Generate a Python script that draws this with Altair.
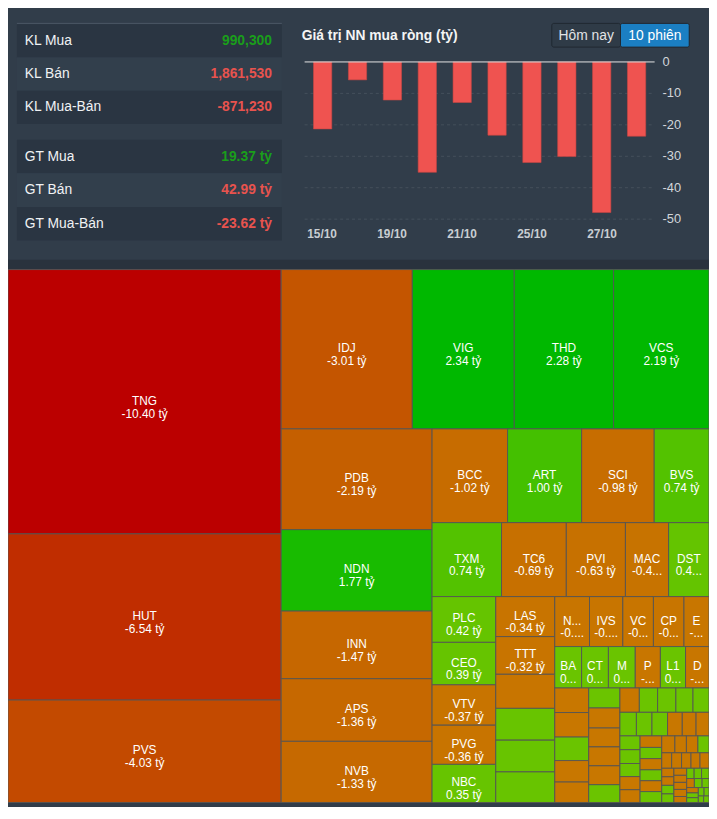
import altair as alt
import pandas as pd

# ---------------- data ----------------
tbl_labels = ["KL Mua", "KL Bán", "KL Mua-Bán", "GT Mua", "GT Bán", "GT Mua-Bán"]
tbl_values = [990300, 1861530, -871230, 19.37, 42.99, -23.62]
tbl_group = ["KL", "KL", "KL", "GT", "GT", "GT"]
tbl_side = ["buy", "sell", "net", "buy", "sell", "net"]

sessions = ["15/10", "18/10", "19/10", "20/10", "21/10", "22/10", "25/10", "26/10", "27/10", "28/10"]
net_buy = [-21.3, -5.7, -12.1, -35.1, -12.9, -23.3, -32.0, -30.1, -47.9, -23.62]
y_ticks = [0, -10, -20, -30, -40, -50]
x_tick_labels = ["15/10", "19/10", "21/10", "25/10", "27/10"]

title_text = "Giá trị NN mua ròng (tỷ)"
buttons = ["Hôm nay", "10 phiên"]
button_active = [False, True]

tm_symbols = ["TNG", "HUT", "PVS", "IDJ", "VIG", "THD", "VCS", "PDB", "NDN", "INN",
              "APS", "NVB", "BCC", "ART", "SCI", "BVS", "TXM", "TC6", "PVI", "MAC",
              "DST", "PLC", "CEO", "VTV", "PVG", "NBC", "LAS", "TTT",
              "", "", "", "",
              "N...", "IVS", "VC", "CP", "E", "BA", "CT", "M", "P", "L1", "D"]
tm_values = [-10.40, -6.54, -4.03, -3.01, 2.34, 2.28, 2.19, -2.19, 1.77, -1.47,
             -1.36, -1.33, -1.02, 1.00, -0.98, 0.74, 0.74, -0.69, -0.63, -0.46,
             0.43, 0.42, 0.39, -0.37, -0.36, 0.35, -0.34, -0.32,
             -0.29, 0.27, 0.27, 0.26,
             -0.25, -0.24, -0.22, -0.22, -0.18, 0.16, 0.16, 0.16, -0.15, 0.15, -0.14]
tm_tail = [-0.12, -0.12, 0.115, -0.105, -0.10,
           0.09, -0.09, -0.085, -0.085, -0.085, 0.08,
           -0.068, 0.064, 0.064, 0.06, 0.056, 0.056,
           0.053, 0.053, -0.05, -0.047, -0.044, 0.04,
           0.04, 0.038, -0.038, -0.037, -0.036,
           0.035, -0.035, 0.034, -0.034, 0.034,
           -0.032, -0.028, -0.028, 0.027,
           -0.022, -0.022, -0.021, -0.02, -0.02,
           -0.015, -0.015, 0.015, 0.015,
           -0.013, -0.013, -0.013, -0.013,
           -0.011, 0.011, 0.011, 0.011, -0.01, 0.01,
           0.009, -0.009, 0.008, 0.008, 0.007, 0.006, 0.005, 0.005]

# ---------------- layout constants (pixels) ----------------
FONT = "Liberation Sans, Arial, sans-serif"
W, H = 709, 799
TM_TOP = 260
VW, VH = 717.0, 551.0          # treemap layout box (aspect of the original)


# ---------------- treemap layout (d3 squarify) ----------------
def squarify(values, x0, y0, x1, y1, ratio=(1 + 5 ** 0.5) / 2):
    n = len(values)
    out = [None] * n
    value = float(sum(values))
    i0 = i1 = 0
    while i0 < n:
        dx, dy = x1 - x0, y1 - y0
        sumv = values[i1]
        i1 += 1
        minv = maxv = sumv
        alpha = max(dy / dx, dx / dy) / (value * ratio)
        beta = sumv * sumv * alpha
        minratio = max(maxv / beta, beta / minv)
        while i1 < n:
            nv = values[i1]
            sumv += nv
            minv = min(minv, nv)
            maxv = max(maxv, nv)
            beta = sumv * sumv * alpha
            nr = max(maxv / beta, beta / minv)
            if nr > minratio:
                sumv -= nv
                break
            minratio = nr
            i1 += 1
        if dx < dy:
            yy = y0 + dy * sumv / value
            cx = x0
            for i in range(i0, i1):
                w = (x1 - x0) * values[i] / sumv
                out[i] = (cx, y0, cx + w, yy)
                cx += w
            y0 = yy
        else:
            xx = x0 + dx * sumv / value
            cy = y0
            for i in range(i0, i1):
                h = (y1 - y0) * values[i] / sumv
                out[i] = (x0, cy, xx, cy + h)
                cy += h
            x0 = xx
        value -= sumv
        i0 = i1
    return out


syms = tm_symbols + ["" for _ in tm_tail]
vals = tm_values + tm_tail
order = sorted(range(len(vals)), key=lambda k: -abs(vals[k]))
syms = [syms[k] for k in order]
vals = [vals[k] for k in order]
rects = squarify([abs(v) for v in vals], 0, 0, VW, VH)
tm = pd.DataFrame({
    "sym": syms, "v": vals,
    "x0": [r[0] for r in rects], "y0": [r[1] for r in rects],
    "x1": [r[2] for r in rects], "y1": [r[3] for r in rects],
})
tm["cx"] = (tm.x0 + tm.x1) / 2
tm["cy"] = (tm.y0 + tm.y1) / 2
tm["w"] = tm.x1 - tm.x0
tm["h"] = tm.y1 - tm.y0
tm["wpx"] = tm.w * W / VW
tm["lab"] = [f"{s}\n{v:.2f} tỷ" for s, v in zip(tm.sym, tm.v)]

# ---------------- table ----------------
tdf = pd.DataFrame({"label": tbl_labels, "val": tbl_values, "grp": tbl_group, "side": tbl_side})
tdf["txt"] = [f"{int(v):,}" if g == "KL" else f"{v:.2f} tỷ" for v, g in zip(tdf.val, tdf.grp)]
tdf["i"] = tdf.groupby("grp").cumcount()
tdf["pos"] = [(s == "buy") or (s == "net" and v > 0) for s, v in zip(tdf.side, tdf.val)]

GREEN = "#1a9e1a"
RED = "#e8534e"

layers = []


def table_layers(g, rng):
    d = tdf[tdf.grp == g]
    yenc = alt.Y("label:N", sort=None, axis=None,
                 scale=alt.Scale(domain=list(d.label), range=rng, paddingInner=0, paddingOuter=0))
    base = alt.Chart(d)
    rect = base.mark_rect().encode(
        x=alt.value(9), x2=alt.value(277), y=yenc,
        fill=alt.condition("datum.i % 2 == 0", alt.value("#2a3542"), alt.value("#323f4c")))
    lab = base.mark_text(align="left", baseline="middle", font=FONT, fontSize=14, color="#f0f2f4").encode(
        x=alt.value(17), y=yenc, text="label:N")
    val = base.mark_text(align="right", baseline="middle", font=FONT, fontSize=14, fontWeight="bold").encode(
        x=alt.value(267), y=yenc, text="txt:N",
        color=alt.condition("datum.pos", alt.value(GREEN), alt.value(RED)))
    return [rect, lab, val]


layers += table_layers("KL", [12, 112.7])
layers += table_layers("GT", [128.7, 230.7])
layers.append(alt.Chart(pd.DataFrame({"k": [0]})).mark_rule(color="#4b5764", strokeWidth=1).encode(
    x=alt.value(9), x2=alt.value(277), y=alt.value(11)))

# ---------------- bar chart ----------------
bar_df = pd.DataFrame({"date": sessions, "net": net_buy})
xs = alt.Scale(domain=sessions, range=[300, 654], paddingInner=0.476, paddingOuter=0.255)
ys = alt.Scale(domain=[-50, 0], range=[209, 50], nice=False)
tick_df = pd.DataFrame({"t": y_ticks, "lab": [str(t) for t in y_ticks]})

layers.append(alt.Chart(tick_df[tick_df.t != 0]).mark_rule(color="#45505b", strokeDash=[3, 3], strokeWidth=1).encode(
    y=alt.Y("t:Q", scale=ys, axis=None), x=alt.value(300), x2=alt.value(654)))
layers.append(alt.Chart(bar_df).mark_bar(color="#ef5350", stroke="#c94542", strokeWidth=0.6).encode(
    x=alt.X("date:N", sort=None, scale=xs, axis=None),
    y=alt.Y("net:Q", scale=ys, axis=None)))
layers.append(alt.Chart(tick_df[tick_df.t == 0]).mark_rule(color="#e6e6e6", strokeWidth=1).encode(
    y=alt.Y("t:Q", scale=ys, axis=None), x=alt.value(300), x2=alt.value(654)))
layers.append(alt.Chart(tick_df).mark_text(align="left", baseline="middle", font=FONT, fontSize=13, color="#d2d6da").encode(
    y=alt.Y("t:Q", scale=ys, axis=None), x=alt.value(662), text="lab:N"))
layers.append(alt.Chart(pd.DataFrame({"date": x_tick_labels})).mark_text(
    baseline="middle", font=FONT, fontSize=12, fontWeight="bold", color="#c8cdd2").encode(
    x=alt.X("date:N", sort=None, scale=xs, axis=None), y=alt.value(224), text="date:N"))

# title + buttons
layers.append(alt.Chart(pd.DataFrame({"t": [title_text]})).mark_text(
    align="left", baseline="middle", font=FONT, fontSize=14, fontWeight="bold", color="#f4f4f4").encode(
    x=alt.value(297), y=alt.value(24), text="t:N"))
btn_df = pd.DataFrame({"b": buttons, "active": button_active})
bxs = alt.Scale(domain=buttons, range=[550, 689], paddingInner=0, paddingOuter=0)
layers.append(alt.Chart(btn_df).mark_rect(stroke="#1f2731", strokeWidth=1, cornerRadius=2).encode(
    x=alt.X("b:N", sort=None, scale=bxs, axis=None), y=alt.value(11), y2=alt.value(35),
    fill=alt.condition("datum.active", alt.value("#1b7fc3"), alt.value("#2f3b47"))))
layers.append(alt.Chart(btn_df).mark_text(baseline="middle", font=FONT, fontSize=14).encode(
    x=alt.X("b:N", sort=None, scale=bxs, axis=None), y=alt.value(24), text="b:N",
    color=alt.condition("datum.active", alt.value("#ffffff"), alt.value("#e2e4e6"))))

# separator strip
layers.append(alt.Chart(pd.DataFrame({"k": [0]})).mark_rect(color="#29323d").encode(
    x=alt.value(0), x2=alt.value(W), y=alt.value(250), y2=alt.value(TM_TOP)))

# ---------------- treemap ----------------
txs = alt.Scale(domain=[0, VW], range=[0, W], nice=False, zero=False)
tys = alt.Scale(domain=[0, VH], range=[TM_TOP, H], nice=False, zero=False)
cscale = alt.Scale(domain=[-10.4, -0.001, 0.001, 0.4, 2.2],
                   range=["#bb0000", "#c87800", "#6cc400", "#66c400", "#00b800"],
                   interpolate="rgb", clamp=True)
layers.append(alt.Chart(tm).mark_rect(stroke="#555555", strokeWidth=1, strokeOpacity=0.9).encode(
    x=alt.X("x0:Q", scale=txs, axis=None), x2="x1:Q",
    y=alt.Y("y0:Q", scale=tys, axis=None), y2="y1:Q",
    fill=alt.Fill("v:Q", scale=cscale, legend=None)))
lab_df = tm[(tm.h >= 37) & (tm.w >= 15)]
layers.append(alt.Chart(lab_df).mark_text(
    baseline="middle", font=FONT, fontSize=12, color="#ffffff", dy=-1, lineBreak="\n", lineHeight=13,
    limit=alt.ExprRef(expr="datum.wpx - 8"), ellipsis="...").encode(
    x=alt.X("cx:Q", scale=txs, axis=None), y=alt.Y("cy:Q", scale=tys, axis=None), text="lab:N"))

chart = alt.layer(*layers).resolve_scale(x="independent", y="independent").properties(
    width=W, height=H, autosize=alt.AutoSizeParams(type="none"), padding=0
).configure(background="#313d4a").configure_view(stroke=None)

chart.save("out.html", embed_options={"renderer": "svg", "actions": False})
